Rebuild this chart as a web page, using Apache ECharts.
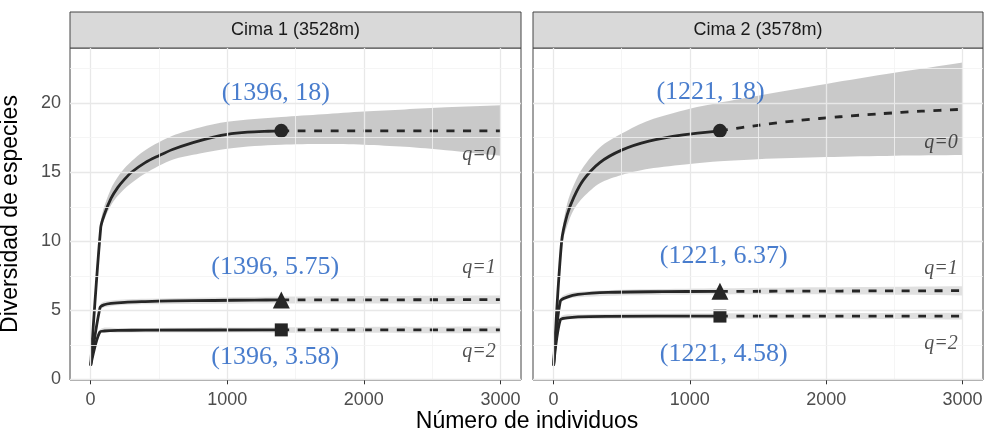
<!DOCTYPE html>
<html>
<head>
<meta charset="utf-8">
<script src="https://cdn.jsdelivr.net/npm/echarts@6.0.0/dist/echarts.min.js"></script>
<style>
  html, body { margin: 0; padding: 0; background: #fff; }
  #chart { width: 984px; height: 434px; }
</style>
</head>
<body>
<div id="chart"></div>
<script>
// ticks and facets
const xTicks = [0, 1000, 2000, 3000]
const xMinor = [500, 1500, 2500]
const yTicks = [0, 5, 10, 15, 20]
const yMinor = [2.5, 7.5, 12.5, 17.5, 22.5]
const panels = ['Cima 1 (3528m)', 'Cima 2 (3578m)']
const qNames = ['q=0', 'q=1', 'q=2']

// Cima 1 - observed (solid) curves
const c1q0X = [1, 75, 100, 150, 200, 250, 300, 400, 500, 600, 750, 900, 1000, 1150, 1300, 1396]
const c1q0Y = [1, 11.0, 11.9, 13.1, 13.9, 14.5, 15.0, 15.7, 16.2, 16.65, 17.15, 17.55, 17.75, 17.9, 17.97, 18.0]
const c1q1X = [1, 70, 100, 150, 250, 400, 600, 900, 1200, 1396]
const c1q1Y = [1, 5.2, 5.4, 5.5, 5.58, 5.63, 5.68, 5.71, 5.74, 5.75]
const c1q2X = [1, 70, 100, 200, 400, 1396]
const c1q2Y = [1, 3.45, 3.5, 3.54, 3.56, 3.58]
// Cima 1 - extrapolated (dashed)
const c1q0ExtX = [1396, 3000]
const c1q0ExtY = [18.0, 18.0]
const c1q1ExtX = [1396, 3000]
const c1q1ExtY = [5.75, 5.77]
const c1q2ExtX = [1396, 3000]
const c1q2ExtY = [3.58, 3.58]
// Cima 1 - confidence bands
const c1q0BandX = [1, 75, 150, 250, 400, 600, 800, 1000, 1200, 1396, 1700, 2000, 2300, 2600, 3000]
const c1q0Lo = [1, 10.6, 12.6, 13.8, 14.9, 15.9, 16.35, 16.7, 16.9, 17.0, 17.05, 17.0, 16.85, 16.6, 16.2]
const c1q0Hi = [1, 11.4, 13.8, 15.3, 16.6, 17.65, 18.25, 18.65, 18.85, 19.0, 19.2, 19.4, 19.55, 19.7, 19.85]
const c1q1BandX = [1, 70, 150, 400, 1396, 3000]
const c1q1Lo = [1, 5.0, 5.3, 5.43, 5.5, 5.45]
const c1q1Hi = [1, 5.4, 5.7, 5.83, 6.0, 6.08]
const c1q2BandX = [1, 70, 200, 1396, 3000]
const c1q2Lo = [1, 3.3, 3.38, 3.38, 3.33]
const c1q2Hi = [1, 3.6, 3.7, 3.78, 3.83]

// Cima 2 - observed (solid) curves
const c2q0X = [1, 60, 100, 150, 220, 340, 500, 700, 950, 1221]
const c2q0Y = [1, 10.0, 11.9, 13.2, 14.45, 15.7, 16.6, 17.25, 17.7, 18.0]
const c2q1X = [1, 50, 100, 180, 400, 800, 1221]
const c2q1Y = [1, 5.65, 5.95, 6.15, 6.3, 6.35, 6.37]
const c2q2X = [1, 50, 100, 180, 400, 1221]
const c2q2Y = [1, 4.3, 4.45, 4.53, 4.56, 4.58]
// Cima 2 - extrapolated (dashed)
const c2q0ExtX = [1221, 1500, 1800, 2100, 2400, 2700, 3000]
const c2q0ExtY = [18.0, 18.4, 18.75, 19.02, 19.24, 19.42, 19.56]
const c2q1ExtX = [1221, 3000]
const c2q1ExtY = [6.37, 6.42]
const c2q2ExtX = [1221, 3000]
const c2q2ExtY = [4.58, 4.58]
// Cima 2 - confidence bands
const c2q0BandX = [1, 60, 100, 150, 220, 340, 500, 700, 1000, 1221, 1500, 2000, 2500, 3000]
const c2q0Lo = [1, 9.6, 11.1, 12.3, 13.2, 14.2, 14.8, 15.25, 15.6, 15.8, 15.95, 16.1, 16.2, 16.25]
const c2q0Hi = [1, 10.4, 12.7, 14.1, 15.4, 16.8, 17.8, 18.75, 19.6, 20.05, 20.55, 21.4, 22.2, 22.95]
const c2q1BandX = [1, 50, 180, 1221, 3000]
const c2q1Lo = [1, 5.45, 5.95, 6.15, 6.08]
const c2q1Hi = [1, 5.85, 6.35, 6.6, 6.75]
const c2q2BandX = [1, 50, 180, 1221, 3000]
const c2q2Lo = [1, 4.12, 4.35, 4.38, 4.33]
const c2q2Hi = [1, 4.48, 4.7, 4.78, 4.83]

// annotations (data coordinates)
const c1Notes = ['(1396, 18)', '(1396, 5.75)', '(1396, 3.58)']
const c1NoteAt = [[1356, 20.7], [1352, 8.14], [1352, 1.62]]
const c2Notes = ['(1221, 18)', '(1221, 6.37)', '(1221, 4.58)']
const c2NoteAt = [[1152, 20.78], [1249, 8.93], [1249, 1.83]]
const c1QAt = [[2965, 16.25], [2965, 8.07], [2965, 2.0]]
const c2QAt = [[2965, 17.16], [2965, 8.0], [2965, 2.56]]

const lineColor = '#262626'
const zip = (xs, ys) => xs.map((x, i) => [x, ys[i]])

function gridLines(gi) {
  const major = { color: '#e8e8e8', width: 1.3, type: 'solid' }
  const minor = { color: '#f2f2f2', width: 0.8, type: 'solid' }
  const d = []
  xTicks.forEach(v => d.push({ xAxis: v, lineStyle: major }))
  xMinor.forEach(v => d.push({ xAxis: v, lineStyle: minor }))
  yTicks.forEach(v => d.push({ yAxis: v, lineStyle: major }))
  yMinor.forEach(v => d.push({ yAxis: v, lineStyle: minor }))
  return {
    type: 'line', xAxisIndex: gi, yAxisIndex: gi, data: [], z: 1, silent: true,
    markLine: { silent: true, symbol: ['none', 'none'], label: { show: false }, animation: false, lineStyle: { type: 'solid' }, data: d }
  }
}

// ribbon: one smoothed polygon, upper edge then lower edge back
function band(gi, xs, lo, hi, color) {
  return {
    type: 'custom', xAxisIndex: gi, yAxisIndex: gi, silent: true, z: 2,
    data: xs.map((x, i) => [x, lo[i], hi[i]]),
    renderItem: (params, api) => {
      if (params.dataIndex !== 0) return
      const n = xs.length
      const pts = []
      for (let i = 0; i < n; i++) pts.push(api.coord([xs[i], hi[i]]))
      pts.push(api.coord([xs[n - 1], hi[n - 1]]))
      pts.push(api.coord([xs[n - 1], lo[n - 1]]))
      for (let i = n - 1; i >= 0; i--) pts.push(api.coord([xs[i], lo[i]]))
      pts.push(api.coord([xs[0], lo[0]]))
      return { type: 'polygon', shape: { points: pts, smooth: 0.3 }, style: { fill: color } }
    }
  }
}

function curve(gi, xs, ys, dashed) {
  return {
    type: 'line', xAxisIndex: gi, yAxisIndex: gi, z: 3, silent: true,
    data: zip(xs, ys), showSymbol: false, symbol: 'none',
    smooth: 0.3,
    lineStyle: { color: lineColor, width: 2.8, type: dashed ? [8, 8.5] : 'solid' }
  }
}

function marker(gi, x, y, shape, size) {
  return {
    type: 'scatter', xAxisIndex: gi, yAxisIndex: gi, z: 4, silent: true,
    data: [[x, y]], symbol: shape, symbolSize: size,
    itemStyle: { color: lineColor, opacity: 1 }
  }
}

function notes(gi, texts, at, style) {
  return {
    type: 'scatter', xAxisIndex: gi, yAxisIndex: gi, z: 5, silent: true,
    symbolSize: 1, itemStyle: { color: 'rgba(0,0,0,0)' },
    data: texts.map((t, i) => ({ value: at[i], name: t })),
    label: Object.assign({ show: true, position: 'inside', formatter: p => p.name }, style)
  }
}

const blueStyle = { color: '#1b5cc0', fontFamily: 'Liberation Serif', fontSize: 26, align: 'center', verticalAlign: 'middle' }
const qStyle = { color: '#262626', fontFamily: 'Liberation Serif', fontStyle: 'italic', fontSize: 20, align: 'right', verticalAlign: 'middle' }

const bandDark = 'rgba(0,0,0,0.21)'
const bandLight = 'rgba(0,0,0,0.12)'

const gridsPx = [{ left: 70, top: 48, width: 451, height: 332 }, { left: 533, top: 48, width: 450, height: 332 }]

const xAxes = gridsPx.map((g, i) => ({
  type: 'value', gridIndex: i, min: -150, max: 3150,
  axisLine: { show: false },
  splitLine: { show: false },
  axisTick: { show: true, length: 5, customValues: xTicks, lineStyle: { color: '#333', width: 1 } },
  axisLabel: { customValues: xTicks, formatter: v => String(v), color: '#4d4d4d', fontSize: 18, fontFamily: 'Liberation Sans', margin: 11 }
}))

const yAxes = gridsPx.map((g, i) => ({
  type: 'value', gridIndex: i, min: -0.05, max: 24,
  name: i === 0 ? 'Diversidad de especies' : '',
  nameLocation: 'middle', nameGap: 48,
  nameTextStyle: { color: '#000', fontSize: 23, fontFamily: 'Liberation Sans' },
  axisLine: { show: false },
  splitLine: { show: false },
  axisTick: { show: i === 0, length: 5, customValues: yTicks, lineStyle: { color: '#333', width: 1 } },
  axisLabel: { show: i === 0, customValues: yTicks, formatter: v => String(v), color: '#4d4d4d', fontSize: 18, fontFamily: 'Liberation Sans', margin: 9 }
}))

const series = [
  gridLines(0), gridLines(1),
  band(0, c1q0BandX, c1q0Lo, c1q0Hi, bandDark),
  band(0, c1q1BandX, c1q1Lo, c1q1Hi, bandLight),
  band(0, c1q2BandX, c1q2Lo, c1q2Hi, bandLight),
  band(1, c2q0BandX, c2q0Lo, c2q0Hi, bandDark),
  band(1, c2q1BandX, c2q1Lo, c2q1Hi, bandLight),
  band(1, c2q2BandX, c2q2Lo, c2q2Hi, bandLight),
  curve(0, c1q0X, c1q0Y, false), curve(0, c1q0ExtX, c1q0ExtY, true),
  curve(0, c1q1X, c1q1Y, false), curve(0, c1q1ExtX, c1q1ExtY, true),
  curve(0, c1q2X, c1q2Y, false), curve(0, c1q2ExtX, c1q2ExtY, true),
  curve(1, c2q0X, c2q0Y, false), curve(1, c2q0ExtX, c2q0ExtY, true),
  curve(1, c2q1X, c2q1Y, false), curve(1, c2q1ExtX, c2q1ExtY, true),
  curve(1, c2q2X, c2q2Y, false), curve(1, c2q2ExtX, c2q2ExtY, true),
  marker(0, c1q0X[c1q0X.length - 1], c1q0Y[c1q0Y.length - 1], 'circle', 14),
  marker(0, c1q1X[c1q1X.length - 1], c1q1Y[c1q1Y.length - 1], 'triangle', 17),
  marker(0, c1q2X[c1q2X.length - 1], c1q2Y[c1q2Y.length - 1], 'rect', 13),
  marker(1, c2q0X[c2q0X.length - 1], c2q0Y[c2q0Y.length - 1], 'circle', 14),
  marker(1, c2q1X[c2q1X.length - 1], c2q1Y[c2q1Y.length - 1], 'triangle', 17),
  marker(1, c2q2X[c2q2X.length - 1], c2q2Y[c2q2Y.length - 1], 'rect', 13),
  notes(0, c1Notes, c1NoteAt, blueStyle),
  notes(1, c2Notes, c2NoteAt, blueStyle),
  notes(0, qNames, c1QAt, qStyle),
  notes(1, qNames, c2QAt, qStyle)
]

const strips = gridsPx.map((g, i) => ({
  type: 'group',
  children: [
    { type: 'rect', shape: { x: g.left, y: 12, width: g.width, height: 36 }, style: { fill: '#d9d9d9', stroke: '#444', lineWidth: 1 } },
    { type: 'text', x: g.left + g.width / 2, y: 30, style: { text: panels[i], fill: '#1a1a1a', font: '18px "Liberation Sans"', textAlign: 'center', textVerticalAlign: 'middle' } }
  ]
}))

const chart = echarts.init(document.getElementById('chart'))
chart.setOption({
  animation: false,
  backgroundColor: '#fff',
  grid: gridsPx.map(g => Object.assign({ show: true, backgroundColor: '#fff', borderColor: '#444', borderWidth: 1, containLabel: false, outerBoundsMode: 'none' }, g)),
  xAxis: xAxes,
  yAxis: yAxes,
  graphic: strips.concat([
    { type: 'text', x: 527, y: 422, style: { text: 'Número de individuos', fill: '#000', font: '23px "Liberation Sans"', textAlign: 'center', textVerticalAlign: 'middle' } }
  ]),
  series
})
</script>
</body>
</html>
